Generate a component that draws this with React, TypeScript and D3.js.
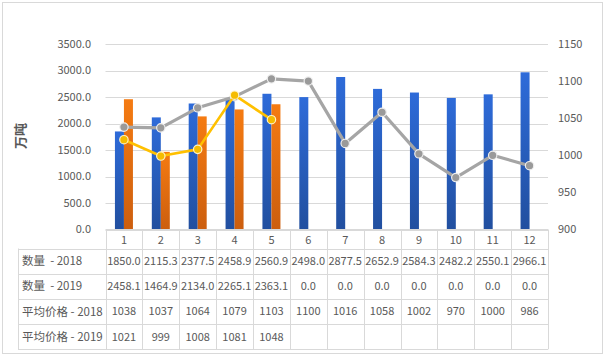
import React from "react";
import * as d3 from "d3";

const months = ["1", "2", "3", "4", "5", "6", "7", "8", "9", "10", "11", "12"];
const qty2018 = [1850.0, 2115.3, 2377.5, 2458.9, 2560.9, 2498.0, 2877.5, 2652.9, 2584.3, 2482.2, 2550.1, 2966.1];
const qty2019 = [2458.1, 1464.9, 2134.0, 2265.1, 2363.1, 0, 0, 0, 0, 0, 0, 0];
const price2018 = [1038, 1037, 1064, 1079, 1103, 1100, 1016, 1058, 1002, 970, 1000, 986];
const price2019 = [1021, 999, 1008, 1081, 1048];
const leftTicks = [0, 500, 1000, 1500, 2000, 2500, 3000, 3500];
const rightTicks = [900, 950, 1000, 1050, 1100, 1150];
const rowNames = ["数量  - 2018", "数量  - 2019", "平均价格 - 2018", "平均价格 - 2019"];
const yTitle = "万吨";

const W = 607;
const H = 357;
const plotL = 105.5;
const plotR = 548;
const plotT = 44;
const plotB = 229.5;
const tableL = 18;
const headerH = 19;
const rowH = 25.2;
const font = "'Noto Sans CJK SC', 'Noto Sans', sans-serif";
const textColor = "#595959";
const gridColor = "#d9d9d9";

export default function App() {
  const x0 = d3.scaleBand<string>().domain(months).range([plotL, plotR]).padding(0);
  const bw = x0.bandwidth();
  const x1 = d3.scaleBand<string>().domain(["2018", "2019"]).range([(bw - 18) / 2, (bw + 18) / 2]).padding(0);
  const yL = d3.scaleLinear().domain([0, 3500]).range([plotB, plotT]);
  const yR = d3.scaleLinear().domain([900, 1150]).range([plotB, plotT]);
  const cx = (m: string) => (x0(m) as number) + bw / 2;

  const line = d3
    .line<number>()
    .x((_, i) => cx(months[i]))
    .y((d) => yR(d));

  const tableRows = [
    qty2018.map((v) => v.toFixed(1)),
    qty2019.map((v) => v.toFixed(1)),
    price2018.map((v) => String(v)),
    price2019.map((v) => String(v)),
  ];
  const rowTop = (i: number) => plotB + headerH + i * rowH;
  const tableBottom = rowTop(rowNames.length);

  return (
    <svg
      width={W}
      height={H}
      style={{ position: "absolute", left: 0, top: 0, background: "#fff" }}
      fontFamily={font}
    >
      <defs>
        <linearGradient id="gBlue" x1="0" y1="0" x2="0" y2="1">
          <stop offset="0" stopColor="#2e6bd9" />
          <stop offset="1" stopColor="#214f9f" />
        </linearGradient>
        <linearGradient id="gOrange" x1="0" y1="0" x2="0" y2="1">
          <stop offset="0" stopColor="#f57b12" />
          <stop offset="1" stopColor="#cc5e0e" />
        </linearGradient>
      </defs>
      <rect x={2.5} y={2.5} width={600} height={351} fill="#fff" stroke={gridColor} />

      {leftTicks.map((t) => (
        <line key={t} x1={plotL} x2={plotR} y1={Math.round(yL(t)) + 0.5} y2={Math.round(yL(t)) + 0.5} stroke={gridColor} />
      ))}

      {leftTicks.map((t) => (
        <text key={t} x={91} y={yL(t)} dy="0.35em" textAnchor="end" fontSize={11} fill={textColor}>
          {t.toFixed(1)}
        </text>
      ))}
      {rightTicks.map((t) => (
        <text key={t} x={558} y={yR(t)} dy="0.35em" textAnchor="start" fontSize={11} fill={textColor}>
          {t}
        </text>
      ))}
      <text
        transform={`translate(20,136) rotate(-90)`}
        textAnchor="middle"
        dy="0.35em"
        fontSize={13}
        fontWeight="bold"
        fill={textColor}
      >
        {yTitle}
      </text>

      {months.map((m, i) => (
        <g key={m} transform={`translate(${x0(m)},0)`}>
          <rect x={x1("2018")} width={x1.bandwidth()} y={yL(qty2018[i])} height={plotB - yL(qty2018[i])} fill="url(#gBlue)" />
          {qty2019[i] > 0 && (
            <rect x={x1("2019")} width={x1.bandwidth()} y={yL(qty2019[i])} height={plotB - yL(qty2019[i])} fill="url(#gOrange)" />
          )}
        </g>
      ))}

      <path d={line(price2018) || ""} fill="none" stroke="#a5a5a5" strokeWidth={3.2} strokeLinejoin="round" />
      {price2018.map((v, i) => (
        <circle key={i} cx={cx(months[i])} cy={yR(v)} r={4.2} fill="#9a9a9a" stroke="#eeeeee" strokeWidth={1.2} />
      ))}
      <path d={line(price2019) || ""} fill="none" stroke="#ffc000" strokeWidth={2.6} strokeLinejoin="round" />
      {price2019.map((v, i) => (
        <circle key={i} cx={cx(months[i])} cy={yR(v)} r={4.2} fill="#f5bc00" stroke="#fff3c4" strokeWidth={1.2} />
      ))}

      <g stroke={gridColor} fill="none">
        {d3.range(rowNames.length + 1).map((i) => (
          <line key={i} x1={tableL} x2={plotR} y1={Math.round(rowTop(i)) + 0.5} y2={Math.round(rowTop(i)) + 0.5} />
        ))}
        <line x1={plotL} x2={plotR} y1={plotB} y2={plotB} />
        {months.map((m) => (
          <line key={m} x1={Math.round(x0(m) as number) + 0.5} x2={Math.round(x0(m) as number) + 0.5} y1={plotB} y2={tableBottom} />
        ))}
        <line x1={plotR + 0.5} x2={plotR + 0.5} y1={plotB} y2={tableBottom} />
        <line x1={tableL + 0.5} x2={tableL + 0.5} y1={rowTop(0)} y2={tableBottom} />
      </g>
      {months.map((m) => (
        <text key={m} x={cx(m)} y={plotB + headerH / 2 + 1} dy="0.35em" textAnchor="middle" fontSize={11} fill={textColor}>
          {m}
        </text>
      ))}
      {rowNames.map((n, r) => (
        <g key={n}>
          <text x={tableL + 4} y={rowTop(r) + rowH / 2} dy="0.35em" fontSize={11.5} fill={textColor} xmlSpace="preserve">
            {n}
          </text>
          {tableRows[r].map((v, i) => (
            <text key={i} x={cx(months[i])} y={rowTop(r) + rowH / 2} dy="0.35em" textAnchor="middle" fontSize={11} fill={textColor}>
              {v}
            </text>
          ))}
        </g>
      ))}
    </svg>
  );
}
